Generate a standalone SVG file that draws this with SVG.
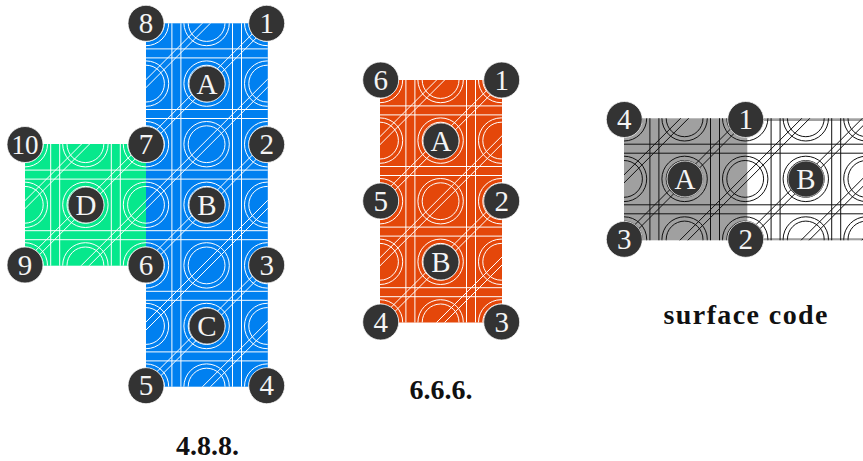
<svg xmlns="http://www.w3.org/2000/svg" width="863" height="461" viewBox="0 0 863 461">
<style>
.n{fill:#333;stroke:#fff;stroke-opacity:.75;stroke-width:1}
.t{font-family:"Liberation Serif","DejaVu Serif",serif;font-size:29px;fill:#f4f4f4;text-anchor:middle}
.cap{font-family:"Liberation Serif","DejaVu Serif",serif;font-size:28px;font-weight:bold;fill:#111;text-anchor:middle}
.w{stroke:#fff;fill:none;stroke-width:1}
.k{stroke:#111;fill:none;stroke-width:1}
</style>
<defs>
<g id="ring"><circle r="18.4"/><circle r="22.7"/></g>
<g id="col">
<use href="#ring" y="0"/><use href="#ring" y="60.6"/><use href="#ring" y="121.2"/><use href="#ring" y="181.8"/><use href="#ring" y="242.4"/><use href="#ring" y="303"/><use href="#ring" y="363.6"/>
</g>
<g id="lattice">
<use href="#col" x="0"/><use href="#col" x="60.6"/><use href="#col" x="121.2"/><use href="#col" x="181.8"/><use href="#col" x="242.4"/><use href="#col" x="303"/>
<path d="M25.9-5V380M34.9-5V380M86.5-5V380M95.5-5V380M147.1-5V380M156.1-5V380M207.7-5V380M216.7-5V380M268.3-5V380M277.3-5V380"/>
<path d="M-5 25.9H320M-5 34.9H320M-5 86.5H320M-5 95.5H320M-5 147.1H320M-5 156.1H320M-5 207.7H320M-5 216.7H320M-5 268.3H320M-5 277.3H320M-5 328.9H320M-5 337.9H320"/>
<path d="M66.6-10L-10 66.6M74.6-10L-10 74.6M127.2-10L-10 127.2M135.2-10L-10 135.2M187.8-10L-10 187.8M195.8-10L-10 195.8M248.4-10L-10 248.4M256.4-10L-10 256.4M309-10L-10 309M317-10L-10 317M369.6-10L-10 369.6M377.6-10L-10 377.6M430.2-10L-10 430.2M438.2-10L-10 438.2M490.8-10L-10 490.8M498.8-10L-10 498.8M551.4-10L-10 551.4M559.4-10L-10 559.4"/>
</g>
<clipPath id="cg"><rect x="25" y="144" width="121" height="121.7"/></clipPath>
<clipPath id="cb"><rect x="146" y="23.3" width="121.8" height="363.4"/></clipPath>
<clipPath id="co"><rect x="380" y="80" width="122" height="242.5"/></clipPath>
<clipPath id="cs"><rect x="624" y="118.3" width="245" height="122"/></clipPath>
</defs>

<g id="panel-blue">
<rect x="146" y="23.3" width="121.8" height="363.4" fill="#0080f0"/>
<g clip-path="url(#cb)"><use href="#lattice" class="w" x="146" y="23"/></g>
</g>
<g id="panel-green">
<rect x="25" y="144" width="121" height="121.7" fill="#06e88c"/>
<g clip-path="url(#cg)"><use href="#lattice" class="w" x="24.8" y="23"/></g>
</g>
<g id="panel-orange">
<rect x="380" y="80" width="122" height="242.5" fill="#e4470a"/>
<g clip-path="url(#co)"><use href="#lattice" class="w" x="380" y="80"/></g>
</g>
<g id="panel-surface">
<rect x="624" y="118.3" width="245" height="122" fill="#a0a0a0"/>
<rect x="747.3" y="121" width="120" height="117.2" fill="#fff"/>
<g clip-path="url(#cs)"><use href="#lattice" class="k" x="624" y="118.3"/></g>
</g>

<g id="connectors"/>

<g id="n488-8"><circle class="n" cx="146" cy="23.3" r="18"/><text class="t" x="146" y="33">8</text></g>
<g id="n488-1"><circle class="n" cx="266.7" cy="23.3" r="18"/><text class="t" x="266.7" y="33">1</text></g>
<g id="n488-7"><circle class="n" cx="146" cy="144.5" r="18"/><text class="t" x="146" y="154.2">7</text></g>
<g id="n488-2"><circle class="n" cx="266.7" cy="144.5" r="18"/><text class="t" x="266.7" y="154.2">2</text></g>
<g id="n488-6"><circle class="n" cx="146" cy="265" r="18"/><text class="t" x="146" y="274.7">6</text></g>
<g id="n488-3"><circle class="n" cx="266.7" cy="265" r="18"/><text class="t" x="266.7" y="274.7">3</text></g>
<g id="n488-5"><circle class="n" cx="146" cy="385.7" r="18"/><text class="t" x="146" y="395.4">5</text></g>
<g id="n488-4"><circle class="n" cx="266.7" cy="385.7" r="18"/><text class="t" x="266.7" y="395.4">4</text></g>
<g id="n488-10"><circle class="n" cx="25" cy="144.5" r="18"/><text class="t" x="25" y="154.2" style="font-size:27px">10</text></g>
<g id="n488-9"><circle class="n" cx="25" cy="265" r="18"/><text class="t" x="25" y="274.7">9</text></g>
<g id="n488-A"><circle class="n" cx="207" cy="84" r="18"/><text class="t" x="207" y="93.7">A</text></g>
<g id="n488-B"><circle class="n" cx="207" cy="205" r="18"/><text class="t" x="207" y="214.7">B</text></g>
<g id="n488-C"><circle class="n" cx="207" cy="326" r="18"/><text class="t" x="207" y="335.7">C</text></g>
<g id="n488-D"><circle class="n" cx="86" cy="205" r="18"/><text class="t" x="86" y="214.7">D</text></g>

<g id="n666-6"><circle class="n" cx="380.7" cy="80" r="18"/><text class="t" x="380.7" y="89.7">6</text></g>
<g id="n666-1"><circle class="n" cx="501.7" cy="80" r="18"/><text class="t" x="501.7" y="89.7">1</text></g>
<g id="n666-5"><circle class="n" cx="380.7" cy="201" r="18"/><text class="t" x="380.7" y="210.7">5</text></g>
<g id="n666-2"><circle class="n" cx="501.7" cy="201" r="18"/><text class="t" x="501.7" y="210.7">2</text></g>
<g id="n666-4"><circle class="n" cx="380.7" cy="322" r="18"/><text class="t" x="380.7" y="331.7">4</text></g>
<g id="n666-3"><circle class="n" cx="501.7" cy="322" r="18"/><text class="t" x="501.7" y="331.7">3</text></g>
<g id="n666-A"><circle class="n" cx="441" cy="141" r="18"/><text class="t" x="441" y="150.7">A</text></g>
<g id="n666-B"><circle class="n" cx="441" cy="262" r="18"/><text class="t" x="441" y="271.7">B</text></g>

<g id="ns-4"><circle class="n" cx="624.3" cy="119.5" r="18"/><text class="t" x="624.3" y="129.2">4</text></g>
<g id="ns-1"><circle class="n" cx="745.7" cy="119.5" r="18"/><text class="t" x="745.7" y="129.2">1</text></g>
<g id="ns-3"><circle class="n" cx="624.3" cy="239.3" r="18"/><text class="t" x="624.3" y="249">3</text></g>
<g id="ns-2"><circle class="n" cx="745.7" cy="239.3" r="18"/><text class="t" x="745.7" y="249">2</text></g>
<g id="ns-A"><circle class="n" cx="685" cy="179" r="18"/><text class="t" x="685" y="188.7">A</text></g>
<g id="ns-B"><circle class="n" cx="806" cy="179" r="18" style="stroke:#aaa;stroke-opacity:1"/><text class="t" x="806" y="188.7">B</text></g>

<text class="cap" x="207.5" y="455">4.8.8.</text>
<text class="cap" x="441" y="399">6.6.6.</text>
<text class="cap" x="745.5" y="324" textLength="164">surface code</text>
</svg>
